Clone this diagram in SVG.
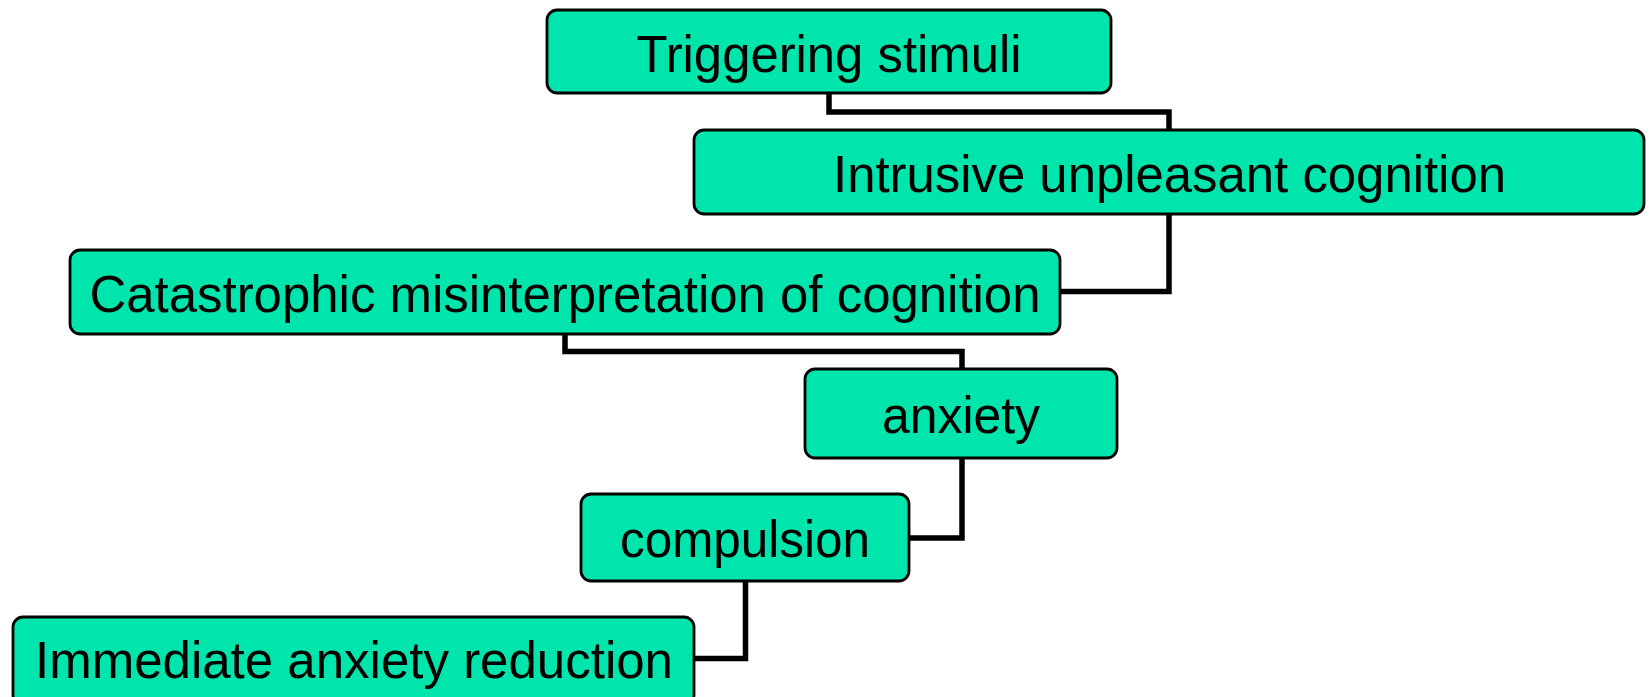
<svg xmlns="http://www.w3.org/2000/svg" width="1651" height="697" viewBox="0 0 1651 697">
<style>
.box{fill:#00E5AB;stroke:#000;stroke-width:2.8}
.lbl{font-family:"Liberation Sans",Arial,sans-serif;font-size:52px;fill:#000;text-anchor:middle}
.conn{fill:none;stroke:#000;stroke-width:5.5;stroke-linejoin:miter}
</style>
<rect width="1651" height="697" fill="#fff"/>
<g id="connectors">
<polyline class="conn" points="829,93 829,112 1169,112 1169,130"/>
<polyline class="conn" points="1169,214 1169,291.5 1060,291.5"/>
<polyline class="conn" points="565,334 565,351.5 962,351.5 962,369"/>
<polyline class="conn" points="962,458 962,538 909,538"/>
<polyline class="conn" points="745.5,581 745.5,658.5 694,658.5"/>
</g>
<g id="n1"><rect class="box" x="547" y="10" width="564" height="83" rx="10"/><text class="lbl" x="829" y="72" textLength="385" lengthAdjust="spacingAndGlyphs">Triggering stimuli</text></g>
<g id="n2"><rect class="box" x="694" y="130" width="950" height="84" rx="10"/><text class="lbl" x="1169.5" y="192" textLength="673" lengthAdjust="spacingAndGlyphs">Intrusive unpleasant cognition</text></g>
<g id="n3"><rect class="box" x="70" y="250" width="990" height="84" rx="10"/><text class="lbl" x="565" y="312" textLength="951" lengthAdjust="spacingAndGlyphs">Catastrophic misinterpretation of cognition</text></g>
<g id="n4"><rect class="box" x="805" y="369" width="312" height="89" rx="10"/><text class="lbl" x="961" y="433" textLength="158" lengthAdjust="spacingAndGlyphs">anxiety</text></g>
<g id="n5"><rect class="box" x="581" y="494" width="328" height="87" rx="10"/><text class="lbl" x="745" y="557" textLength="250" lengthAdjust="spacingAndGlyphs">compulsion</text></g>
<g id="n6"><rect class="box" x="13" y="617" width="681" height="88" rx="10"/><text class="lbl" x="354" y="678" textLength="638" lengthAdjust="spacingAndGlyphs">Immediate anxiety reduction</text></g>
</svg>
